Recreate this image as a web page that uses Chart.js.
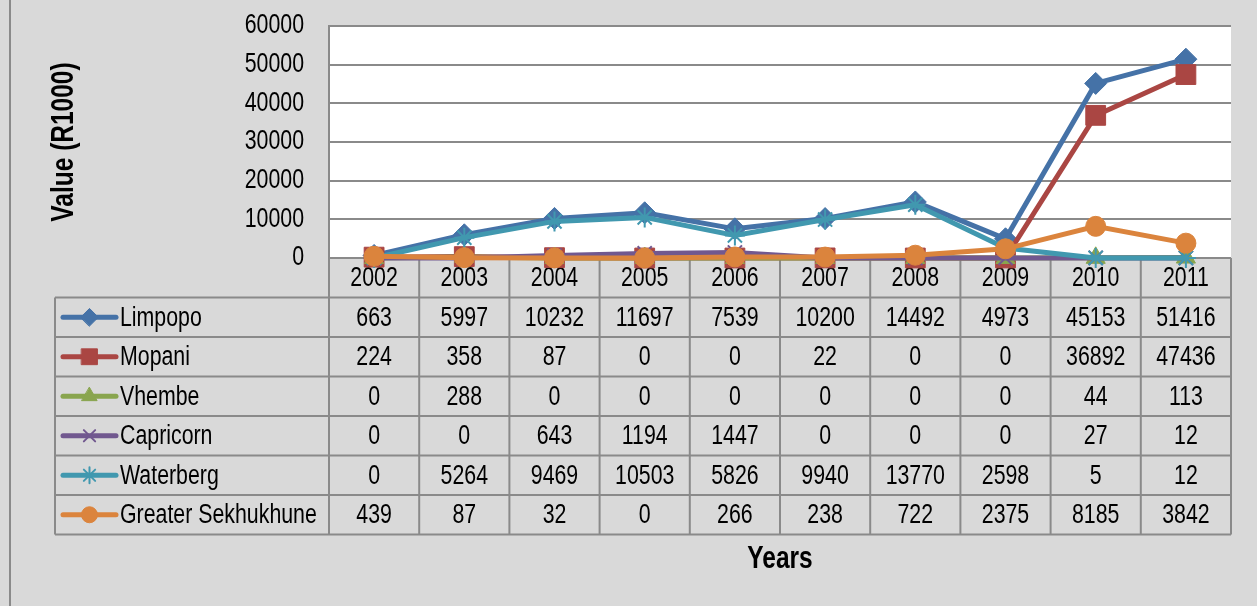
<!DOCTYPE html>
<html>
<head>
<meta charset="utf-8">
<script src="https://cdn.jsdelivr.net/npm/chart.js@4.4.1/dist/chart.umd.min.js"></script>
<style>
  html, body { margin: 0; padding: 0; background: #d9d9d9; }
  #wrap { width: 1257px; height: 606px; }
</style>
</head>
<body>
<div id="wrap"><canvas id="chart" width="1257" height="606"></canvas></div>
<script>
// data
const years = ['2002', '2003', '2004', '2005', '2006', '2007', '2008', '2009', '2010', '2011'];
const limpopo = [663, 5997, 10232, 11697, 7539, 10200, 14492, 4973, 45153, 51416];
const mopani = [224, 358, 87, 0, 0, 22, 0, 0, 36892, 47436];
const vhembe = [0, 288, 0, 0, 0, 0, 0, 0, 44, 113];
const capricorn = [0, 0, 643, 1194, 1447, 0, 0, 0, 27, 12];
const waterberg = [0, 5264, 9469, 10503, 5826, 9940, 13770, 2598, 5, 12];
const sekhukhune = [439, 87, 32, 0, 266, 238, 722, 2375, 8185, 3842];

const FONT = "'Liberation Sans', Arial, sans-serif";
const GRID = '#8a8a8a';
const SQUEEZE = 0.79; // the original uses Arial Narrow, squeeze Liberation Sans to match

const canvas = document.getElementById('chart');
const ctx2d = canvas.getContext('2d');
const rawFill = ctx2d.fillText.bind(ctx2d);
ctx2d.fillText = function (text, x, y, maxWidth) {
  const w = this.measureText(text).width * SQUEEZE;
  return rawFill(text, x, y, maxWidth === undefined ? w : Math.min(maxWidth, w));
};

function series(label, data, color, style, radius, order) {
  const cross = style === 'crossRot' || style === 'star';
  return {
    label: label,
    data: data,
    borderColor: color,
    backgroundColor: color,
    borderWidth: 5,
    pointStyle: style,
    pointRadius: radius,
    pointHoverRadius: radius,
    pointBorderColor: color,
    pointBackgroundColor: color,
    pointBorderWidth: cross ? 2 : 1,
    tension: 0,
    clip: false,
    order: order
  };
}

const datasets = [
  series('Limpopo', limpopo, '#4572a7', 'rectRot', 11, 6),
  series('Mopani', mopani, '#aa4643', 'rect', 14, 5),
  series('Vhembe', vhembe, '#89a54e', 'triangle', 11, 4),
  series('Capricorn', capricorn, '#71588f', 'crossRot', 10, 3),
  series('Waterberg', waterberg, '#4198af', 'star', 10, 2),
  series('Greater Sekhukhune', sekhukhune, '#db843d', 'circle', 10, 1)
];

// grey background, white plot area, outer frame
const backdrop = {
  id: 'backdrop',
  beforeDraw(chart) {
    const { ctx, chartArea: a } = chart;
    ctx.save();
    ctx.fillStyle = '#d9d9d9';
    ctx.fillRect(0, 0, chart.width, chart.height);
    ctx.fillStyle = '#ffffff';
    ctx.fillRect(a.left, a.top, a.right - a.left, a.bottom - a.top);
    ctx.strokeStyle = GRID;
    ctx.lineWidth = 2;
    ctx.beginPath();
    ctx.moveTo(10, 0);
    ctx.lineTo(10, chart.height);
    ctx.stroke();
    ctx.restore();
  }
};

// data table under the plot, lined up with the category scale
const dataTable = {
  id: 'dataTable',
  beforeDatasetsDraw(chart) {
    const { ctx, chartArea: a } = chart;
    const x = chart.scales.x;
    const rowH = 39.5;
    const top = a.bottom;
    const half = (x.getPixelForValue(1) - x.getPixelForValue(0)) / 2;
    const labelLeft = 55;
    const rows = chart.data.datasets.length;
    const bottom = top + rowH * (rows + 1);

    ctx.save();
    ctx.strokeStyle = GRID;
    ctx.lineWidth = 2;
    ctx.beginPath();
    for (let r = 0; r <= rows + 1; r++) {
      const y = top + r * rowH;
      ctx.moveTo(r === 0 ? x.left : labelLeft, y);
      ctx.lineTo(x.right, y);
    }
    ctx.moveTo(labelLeft, top + rowH);
    ctx.lineTo(labelLeft, bottom);
    for (let i = 0; i <= years.length; i++) {
      const xp = x.getPixelForValue(0) - half + i * half * 2;
      ctx.moveTo(xp, top);
      ctx.lineTo(xp, bottom);
    }
    ctx.stroke();

    ctx.font = '27px ' + FONT;
    ctx.fillStyle = '#000';
    ctx.textBaseline = 'middle';
    chart.data.datasets.forEach((ds, r) => {
      const cy = top + rowH * (r + 1) + rowH / 2;
      // legend key
      ctx.strokeStyle = ds.borderColor;
      ctx.lineWidth = 5;
      ctx.lineCap = 'round';
      ctx.beginPath();
      ctx.moveTo(63, cy);
      ctx.lineTo(116, cy);
      ctx.stroke();
      if (Chart.helpers && Chart.helpers.drawPoint) {
        ctx.fillStyle = ds.backgroundColor;
        ctx.lineWidth = ds.pointBorderWidth;
        Chart.helpers.drawPoint(ctx, {
          pointStyle: ds.pointStyle,
          radius: ds.pointRadius * 0.8,
          rotation: 0,
          borderWidth: ds.pointBorderWidth
        }, 89.5, cy);
      }
      ctx.fillStyle = '#000';
      ctx.textAlign = 'left';
      ctx.fillText(ds.label, 120, cy + 1);
      ctx.textAlign = 'center';
      ds.data.forEach((v, i) => {
        ctx.fillText(String(v), x.getPixelForValue(i), cy + 1);
      });
    });
    ctx.restore();
  }
};

new Chart(canvas, {
  type: 'line',
  data: { labels: years, datasets: datasets },
  options: {
    responsive: false,
    animation: false,
    devicePixelRatio: 1,
    layout: { padding: { top: 26, right: 26, left: 0, bottom: 0 } },
    plugins: {
      legend: { display: false },
      tooltip: { enabled: false }
    },
    scales: {
      x: {
        offset: true,
        grid: { display: false, drawTicks: false },
        border: { display: false },
        ticks: { color: '#000', font: { family: FONT, size: 27 }, padding: 4, maxRotation: 0, autoSkip: false },
        title: {
          display: true,
          text: 'Years',
          color: '#000',
          font: { family: FONT, size: 31, weight: 'bold' },
          padding: { top: 0, bottom: 28 }
        },
        afterFit: s => { s.height = 348; }
      },
      y: {
        min: 0,
        max: 60000,
        ticks: {
          stepSize: 10000,
          color: '#000',
          font: { family: FONT, size: 27 },
          padding: 0,
          callback: v => String(v)
        },
        grid: { color: GRID, lineWidth: 2, drawTicks: true, tickLength: 25, tickColor: 'rgba(0,0,0,0)' },
        border: { display: true, color: GRID, width: 2 },
        title: {
          display: true,
          text: 'Value (R1000)',
          color: '#000',
          font: { family: FONT, size: 31, weight: 'bold' },
          padding: { top: 46, bottom: 0 }
        },
        afterFit: s => { s.width = 329; }
      }
    }
  },
  plugins: [backdrop, dataTable]
});
</script>
</body>
</html>
